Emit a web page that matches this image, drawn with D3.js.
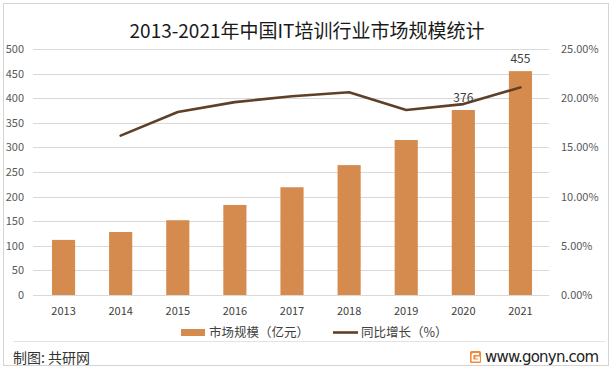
<!DOCTYPE html>
<html>
<head>
<meta charset="utf-8">
<script src="https://cdn.jsdelivr.net/npm/d3@7"></script>
<style>
  html, body { margin: 0; padding: 0; background: #fff; }
  svg { display: block; font-family: "Noto Sans CJK SC", "Noto Sans", sans-serif; }
</style>
</head>
<body>
<svg id="chart" width="614" height="372"></svg>
<script>
const years = ["2013","2014","2015","2016","2017","2018","2019","2020","2021"];
const marketSize = [112, 128, 152, 183, 219, 264, 315, 376, 455];
const growth = [null, 16.2, 18.6, 19.6, 20.2, 20.6, 18.8, 19.4, 21.1];
const leftTicks = [0, 50, 100, 150, 200, 250, 300, 350, 400, 450, 500];
const rightTicks = [0, 5, 10, 15, 20, 25];
const labeledYears = ["2020", "2021"];

const svg = d3.select("#chart");
const W = 614, H = 372;
const plot = { left: 35, right: 549, top: 49, bottom: 295 };

const barColor = "#d48b4d";
const lineColor = "#5e4028";

// outer border
svg.append("rect").attr("x", 3.5).attr("y", 3.5).attr("width", 605).attr("height", 362)
  .attr("fill", "#fff").attr("stroke", "#d4d4d4").attr("stroke-width", 1);

// title
svg.append("text").attr("x", 307).attr("y", 38).attr("text-anchor", "middle")
  .attr("font-size", 19).attr("fill", "#1a1a1a")
  .text("2013-2021年中国IT培训行业市场规模统计");

const x = d3.scaleBand().domain(years).range([plot.left, plot.right]).paddingInner(0.595).paddingOuter(0.2975);
const yL = d3.scaleLinear().domain([0, 500]).range([plot.bottom, plot.top]);
const yR = d3.scaleLinear().domain([0, 25]).range([plot.bottom, plot.top]);

// gridlines
svg.append("g").selectAll("line").data(leftTicks).join("line")
  .attr("x1", plot.left - 2).attr("x2", plot.right)
  .attr("y1", d => Math.round(yL(d)) + 0.5).attr("y2", d => Math.round(yL(d)) + 0.5)
  .attr("stroke", "#d9d9d9").attr("stroke-width", 1);

// left axis
const gL = svg.append("g").attr("transform", `translate(${plot.left - 11},0)`)
  .call(d3.axisLeft(yL).tickValues(leftTicks).tickSize(0).tickPadding(0));
gL.select(".domain").remove();
gL.selectAll("text").attr("font-size", 11).attr("fill", "#595959").attr("font-family", "'Noto Sans CJK SC', sans-serif");

// right axis
const gR = svg.append("g").attr("transform", `translate(${plot.right + 12},0)`)
  .call(d3.axisRight(yR).tickValues(rightTicks).tickSize(0).tickPadding(0).tickFormat(d => d.toFixed(2) + "%"));
gR.select(".domain").remove();
gR.selectAll("text").attr("font-size", 11).attr("fill", "#595959").attr("font-family", "'Noto Sans CJK SC', sans-serif");

// x axis
const gX = svg.append("g").attr("transform", `translate(0,${plot.bottom + 12})`)
  .call(d3.axisBottom(x).tickSize(0).tickPadding(0));
gX.select(".domain").remove();
gX.selectAll("text").attr("font-size", 11).attr("fill", "#404040").attr("font-family", "'Noto Sans CJK SC', sans-serif");

// bars
svg.append("g").selectAll("rect").data(years).join("rect")
  .attr("x", d => x(d)).attr("width", x.bandwidth())
  .attr("y", (d, i) => yL(marketSize[i]))
  .attr("height", (d, i) => yL(0) - yL(marketSize[i]))
  .attr("fill", barColor);

// line
const lineData = years.map((d, i) => ({ year: d, v: growth[i] })).filter(d => d.v !== null);
svg.append("path").datum(lineData)
  .attr("fill", "none").attr("stroke", lineColor).attr("stroke-width", 2.6)
  .attr("stroke-linejoin", "round").attr("stroke-linecap", "round")
  .attr("d", d3.line().x(d => x(d.year) + x.bandwidth() / 2).y(d => yR(d.v)));

// data labels
svg.append("g").selectAll("text").data(labeledYears).join("text")
  .attr("x", d => x(d) + x.bandwidth() / 2)
  .attr("y", d => yL(marketSize[years.indexOf(d)]) - 8)
  .attr("text-anchor", "middle").attr("font-size", 12).attr("fill", "#404040")
  .text(d => marketSize[years.indexOf(d)]);

// legend
const lg = svg.append("g");
lg.append("rect").attr("x", 181).attr("y", 329).attr("width", 24).attr("height", 7).attr("fill", barColor);
lg.append("text").attr("x", 209).attr("y", 337).attr("font-size", 12.5).attr("fill", "#404040").text("市场规模（亿元）");
lg.append("line").attr("x1", 333).attr("x2", 358).attr("y1", 332.5).attr("y2", 332.5)
  .attr("stroke", lineColor).attr("stroke-width", 2.6);
lg.append("text").attr("x", 361).attr("y", 337).attr("font-size", 12.5).attr("fill", "#404040").text("同比增长（%）");

// footer
svg.append("line").attr("x1", 13).attr("x2", 605).attr("y1", 341.5).attr("y2", 341.5)
  .attr("stroke", "#e3e3e3").attr("stroke-width", 1);
svg.append("text").attr("x", 13).attr("y", 363).attr("font-size", 14).attr("fill", "#333").text("制图: 共研网");
// logo
const logo = svg.append("g").attr("transform", "translate(470,351)");
logo.append("rect").attr("x", 0).attr("y", 0).attr("width", 11).attr("height", 12).attr("rx", 1.5).attr("fill", "#f08a3c");
logo.append("path").attr("d", "M2.5,3 H9 M2.5,3 V9.5 H9 V6.5 H5.5").attr("fill", "none").attr("stroke", "#fff").attr("stroke-width", 1.8);
svg.append("text").attr("x", 485).attr("y", 362).attr("font-size", 15).attr("fill", "#222")
  .attr("font-family", "'DejaVu Sans', sans-serif").attr("textLength", 114).text("www.gonyn.com");
</script>
</body>
</html>
